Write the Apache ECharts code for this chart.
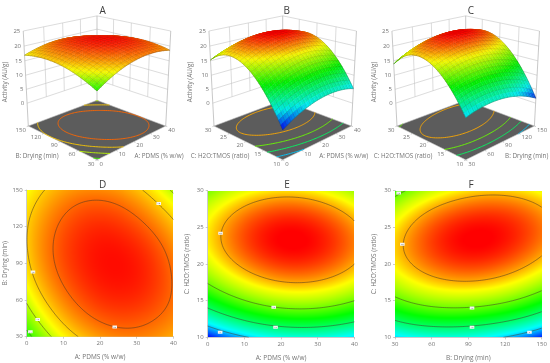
<!DOCTYPE html>
<html><head><meta charset="utf-8">
<style>html,body{margin:0;padding:0;background:#fff}#c{width:550px;height:363px;filter:blur(.3px)}</style>
<script src="https://cdn.jsdelivr.net/npm/echarts@6/dist/echarts.min.js"></script>
</head><body><div id="c"></div>
<script>
// Ticks
const pdmsTicks=[0,10,20,30,40];
const dryingTicks=[30,60,90,120,150];
const ratioTicks=[10,15,20,25,30];
const activityTicks=[0,5,10,15,20,25];
// Activity read at the tick crossings; rows follow the first factor, columns the second
const activityPdmsDrying=[
 [13.4,16.2,17.7,17.9,16.9],
 [17.0,19.4,20.5,20.3,18.8],
 [19.0,21.0,21.7,21.2,19.3],
 [19.5,21.1,21.5,20.5,18.3],
 [18.6,19.8,19.7,18.4,15.7]];
const activityPdmsRatio=[
 [1.3,11.7,17.5,18.7,15.3],
 [4.7,14.9,20.5,21.5,17.9],
 [6.5,16.6,22.0,22.8,19.0],
 [6.7,16.6,21.8,22.4,18.4],
 [5.3,15.0,20.0,20.4,16.2]];
const activityDryingRatio=[
 [5.2,14.3,18.8,18.7,13.9],
 [6.6,16.2,21.1,21.5,17.2],
 [6.5,16.5,22.0,22.8,19.0],
 [4.9,15.4,21.3,22.6,19.3],
 [1.8,12.8,19.2,21.0,18.1]];
// Contour levels and their value flags
const levelsD=[20,18,16,14];
const levelsEF=[20,15,10,5];
const flagsD=[[36,139,'18'],[1.7,83,'18'],[3,44,'16'],[1,34,'14'],[24,38,'20']];
const flagsE=[[3.5,24.2,'20'],[18,14.1,'15'],[18.5,11.4,'10'],[3.4,10.7,'5']];
const flagsF=[[36,22.7,'20'],[93,14,'15'],[93,11.4,'10'],[140,10.7,'5'],[33,29.7,'15']];
const rampD=[[2,[0,0,255]],[8,[0,255,255]],[13,[0,255,0]],[17,[255,255,0]],[22,[255,0,0]]];
const rampEF=[[1.3,[0,0,255]],[6,[0,255,255]],[12.5,[0,255,0]],[18.5,[255,255,0]],[23,[255,0,0]]];
const FONT='"Open Sans",sans-serif', GREY='#747474';

function rgb(s,z,sh){sh=sh==null?1:sh;
  let c=s[s.length-1][1];
  if(z<=s[0][0])c=s[0][1];
  else for(let i=0;i<s.length-1;i++){if(z<=s[i+1][0]){const t=(z-s[i][0])/(s[i+1][0]-s[i][0]);
    c=s[i][1].map((a,k)=>a+(s[i+1][1][k]-a)*t);break;}}
  return c.map(a=>Math.round(a*sh));
}
const css=c=>'rgb('+c.join(',')+')';
function basis(t){const n=[0,.25,.5,.75,1];return n.map((a,i)=>{let r=1;n.forEach((b,j)=>{if(j!==i)r*=(t-b)/(a-b)});return r;});}
function shade(g,u,v){const a=basis(u),b=basis(v);let r=0;for(let i=0;i<5;i++)for(let j=0;j<5;j++)r+=g[i][j]*a[i]*b[j];return r;}
function fineGrid(g,N){const o=[];for(let i=0;i<=N;i++){const r=[];for(let j=0;j<=N;j++)r.push(shade(g,i/N,j/N));o.push(r);}return o;}
function isoSegs(f,N,lv){const out=[];
  const e=(a,b,pa,pb)=>{const t=(lv-a)/(b-a);return [pa[0]+(pb[0]-pa[0])*t,pa[1]+(pb[1]-pa[1])*t];};
  for(let i=0;i<N;i++)for(let j=0;j<N;j++){
    const p=[[i/N,j/N],[(i+1)/N,j/N],[(i+1)/N,(j+1)/N],[i/N,(j+1)/N]];
    const z=[f[i][j],f[i+1][j],f[i+1][j+1],f[i][j+1]],pts=[];
    for(let k=0;k<4;k++){const m=(k+1)%4;if((z[k]<lv)!==(z[m]<lv))pts.push(e(z[k],z[m],p[k],p[m]));}
    if(pts.length===2)out.push(pts);
    else if(pts.length===4){out.push([pts[0],pts[1]],[pts[2],pts[3]]);}
  }return out;}
echarts.graphic.registerShape('segments',echarts.graphic.extendShape({
  shape:{segs:[]},
  buildPath(ctx,s){for(const q of s.segs){ctx.moveTo(q[0],q[1]);ctx.lineTo(q[2],q[3]);}}
}));
function fieldCanvas(g,ramp){const n=147,cv=document.createElement('canvas');cv.width=n;cv.height=n;
  const x=cv.getContext('2d'),im=x.createImageData(n,n);
  for(let r=0;r<n;r++)for(let c=0;c<n;c++){const col=rgb(ramp,shade(g,(c+.5)/n,1-(r+.5)/n));const o=(r*n+c)*4;
    im.data[o]=col[0];im.data[o+1]=col[1];im.data[o+2]=col[2];im.data[o+3]=255;}
  x.putImageData(im,0,0);return cv;}

// 3D box
const CAM={D:4.7,sin:.334,cos:.943,S:100.6,cy:80.2,zFloor:-8.5,zTop:25};
function project(cx,u,v,z){
  const w=(z-CAM.zFloor)/(CAM.zTop-CAM.zFloor)-.5;
  const xs=(u-v)*.7071,g=(u+v-1)*.7071;
  const yc=w*CAM.cos+g*CAM.sin,dp=g*CAM.cos-w*CAM.sin,f=CAM.D/(CAM.D+dp);
  return {x:cx+CAM.S*f*xs,y:CAM.cy-CAM.S*f*yc,d:dp};
}
function txt(x,y,s,o){o=o||{};return {type:'text',silent:true,x,y,rotation:o.rot||0,style:{text:s,font:(o.fs||6)+'px '+FONT,fill:o.fill||GREY,align:o.align||'center',verticalAlign:'middle'}};}
function ln(a,b,col,w){return {type:'line',silent:true,shape:{x1:a.x,y1:a.y,x2:b.x,y2:b.y},style:{stroke:col,lineWidth:w,fill:null}};}

function build3D(cfg){
  const ch=[],{cx,grid,xt,yt,levels,ramp}=cfg,P=(u,v,z)=>project(cx,u,v,z),ZF=CAM.zFloor;
  const WALL='#c4c4c4';
  activityTicks.forEach(z=>{
    ch.push(ln(P(0,1,z),P(1,1,z),WALL,.6),ln(P(1,1,z),P(1,0,z),WALL,.6));
  });
  for(let i=1;i<4;i++){
    ch.push(ln(P(i/4,1,0),P(i/4,1,25),WALL,.6),ln(P(1,i/4,0),P(1,i/4,25),WALL,.6));
  }
  [[0,1],[1,1],[1,0]].forEach(c=>ch.push(ln(P(c[0],c[1],ZF),P(c[0],c[1],25),'#b0b0b0',.7)));
  const fl=[[0,0],[1,0],[1,1],[0,1]].map(c=>{const p=P(c[0],c[1],ZF);return [p.x,p.y];});
  ch.push({type:'polygon',silent:true,shape:{points:fl},style:{fill:'#5c5c5c',stroke:'#bdbdbd',lineWidth:.6}});
  const NC=60,ff=fineGrid(grid,NC);
  levels.forEach(l=>{
    const segs=isoSegs(ff,NC,l).map(q=>{const a=P(q[0][0],q[0][1],ZF),b=P(q[1][0],q[1][1],ZF);return [a.x,a.y,b.x,b.y];});
    ch.push({type:'segments',silent:true,shape:{segs},style:{stroke:css(rgb(ramp,l)),lineWidth:.9,fill:null}});
  });
  xt.forEach((t,i)=>{const u=i/4,p=P(u,0,ZF),q=project(cx,u,-.02,ZF);
    ch.push(ln(p,q,'#9a9a9a',.5),txt(p.x+2.5,p.y+4,String(t),{align:'left'}));});
  yt.forEach((t,i)=>{const v=i/4,p=P(0,v,ZF),q=project(cx,-.02,v,ZF);
    ch.push(ln(p,q,'#9a9a9a',.5),txt(p.x-2.5,p.y+4,String(t),{align:'right'}));});
  activityTicks.forEach(z=>{const p=P(0,1,z);ch.push(txt(p.x-3,p.y,String(z),{align:'right'}));});
  ch.push(txt(cx+cfg.nameLeft,156.7,cfg.yName,{fs:6.3}),txt(cx+cfg.nameRight,156.7,cfg.xName,{fs:6.3}));
  ch.push(txt(cfg.zNameX,82,'Activity (AU/g)',{rot:Math.PI/2,fs:6.3}));
  const N=40,f=fineGrid(grid,N),q=[];
  const zs=1/(CAM.zTop-ZF);
  for(let i=0;i<N;i++)for(let j=0;j<N;j++){
    const a=P(i/N,j/N,f[i][j]),b=P((i+1)/N,j/N,f[i+1][j]),c=P((i+1)/N,(j+1)/N,f[i+1][j+1]),d=P(i/N,(j+1)/N,f[i][j+1]);
    const m=(f[i][j]+f[i+1][j]+f[i+1][j+1]+f[i][j+1])/4;
    const dzu=(f[i+1][j]+f[i+1][j+1]-f[i][j]-f[i][j+1])/2*N*zs,dzv=(f[i][j+1]+f[i+1][j+1]-f[i][j]-f[i+1][j])/2*N*zs;
    const up=1/Math.sqrt(1+dzu*dzu+dzv*dzv);
    q.push({a,b,c,d,i,j,m,sh:.84+.14*up,dp:(a.d+b.d+c.d+d.d)/4});
  }
  q.sort((s,t)=>t.dp-s.dp);
  const ML='rgba(45,35,25,.52)';
  for(const k of q){
    const col=css(rgb(ramp,k.m,k.sh));
    ch.push({type:'polygon',silent:true,shape:{points:[k.a,k.b,k.c,k.d].map(p=>[p.x,p.y])},style:{fill:col,stroke:col,lineWidth:.4}});
    if(k.i%2===0)ch.push(ln(k.a,k.d,ML,.5));
    if(k.j%2===0)ch.push(ln(k.a,k.b,ML,.5));
    if(k.i===N-1)ch.push(ln(k.b,k.c,ML,.5));
    if(k.j===N-1)ch.push(ln(k.d,k.c,ML,.5));
  }
  return {type:'group',children:ch};
}
const nodes=g=>{const o=[];g.forEach((r,i)=>r.forEach((z,j)=>o.push([i,j,z])));return o;};
function series3D(cfg){let cache=null;
  return {type:'custom',coordinateSystem:'none',silent:true,animation:false,data:nodes(cfg.grid),
    renderItem(p){if(p.dataIndex!==0)return null;return cache||(cache=build3D(cfg));}};
}
function series2D(idx,grid,xt,yt,levels,flags,ramp){
  const x0=xt[0],x1=xt[4],y0=yt[0],y1=yt[4],img=fieldCanvas(grid,ramp),NC=80,ff=fineGrid(grid,NC);
  const segsU=[];levels.forEach(l=>segsU.push(...isoSegs(ff,NC,l)));
  return {type:'custom',coordinateSystem:'cartesian2d',xAxisIndex:idx,yAxisIndex:idx,silent:true,animation:false,z:3,
    data:nodes(grid).map(n=>[xt[n[0]],yt[n[1]],n[2]]),encode:{x:0,y:1},clip:true,
    renderItem(p,api){ if(p.dataIndex!==0)return null;
      const a=api.coord([x0,y1]),b=api.coord([x1,y0]),ch=[];
      ch.push({type:'image',silent:true,style:{image:img,x:a[0],y:a[1],width:b[0]-a[0],height:b[1]-a[1]}});
      const segs=segsU.map(q=>{const s=api.coord([x0+q[0][0]*(x1-x0),y0+q[0][1]*(y1-y0)]),e=api.coord([x0+q[1][0]*(x1-x0),y0+q[1][1]*(y1-y0)]);return [s[0],s[1],e[0],e[1]];});
      ch.push({type:'segments',silent:true,shape:{segs},style:{stroke:'rgba(70,55,40,.65)',lineWidth:.8,fill:null}});
      flags.forEach(l=>{const c=api.coord([l[0],l[1]]);
        ch.push({type:'rect',silent:true,shape:{x:c[0]-2.3,y:c[1]-1.5,width:4.6,height:3},style:{fill:'#f4f4f4'}});
        ch.push({type:'text',silent:true,x:c[0],y:c[1],style:{text:l[2],font:'2.5px '+FONT,fill:'#777',align:'center',verticalAlign:'middle'}});
      });
      return {type:'group',children:ch};
    }};
}
const NAME_A='A: PDMS (% w/w)',NAME_B='B: Drying (min)',NAME_C='C: H2O:TMOS (ratio)';
const panels2D=[
 {left:26.7,top:190,xt:pdmsTicks,yt:dryingTicks,xn:NAME_A,yn:NAME_B},
 {left:207.7,top:190.7,xt:pdmsTicks,yt:ratioTicks,xn:NAME_A,yn:NAME_C},
 {left:395,top:190.7,xt:dryingTicks,yt:ratioTicks,xn:NAME_B,yn:NAME_C}];
const ax=(t,name,gap)=>({type:'value',gridIndex:0,min:t[0],max:t[4],interval:t[1]-t[0],name,nameLocation:'middle',nameGap:gap,
  nameTextStyle:{fontFamily:FONT,fontSize:6.5,color:GREY},
  axisLine:{show:true,onZero:false,lineStyle:{color:'#a8a8a8',width:.6}},
  axisTick:{show:true,length:2,lineStyle:{color:'#a8a8a8',width:.6}},splitLine:{show:false},
  axisLabel:{fontFamily:FONT,fontSize:6,color:GREY,margin:4,hideOverlap:false,showMinLabel:true,showMaxLabel:true}});
const titles=[['A',97.7,7.5],['B',281.7,7.5],['C',466,7.5],['D',97.7,181.5],['E',282,181.5],['F',466,181.5]];
const option={animation:false,backgroundColor:'#fff',
  title:titles.map(t=>({text:t[0],left:t[1],top:t[2]-6,textAlign:'center',textStyle:{fontFamily:FONT,fontSize:10,fontWeight:'normal',color:'#3c3c3c'}})),
  grid:panels2D.map(p=>({left:p.left,top:p.top,width:146.7,height:146.7})),
  xAxis:panels2D.map((p,i)=>Object.assign(ax(p.xt,p.xn,17),{gridIndex:i})),
  yAxis:panels2D.map((p,i)=>Object.assign(ax(p.yt,p.yn,17),{gridIndex:i})),
  series:[
   series3D({cx:97,grid:activityPdmsDrying,xt:pdmsTicks,yt:dryingTicks,levels:levelsD,ramp:rampD,xName:NAME_A,yName:NAME_B,nameLeft:-60,nameRight:62,zNameX:5}),
   series3D({cx:282.7,grid:activityPdmsRatio,xt:pdmsTicks,yt:ratioTicks,levels:levelsEF,ramp:rampEF,xName:NAME_A,yName:NAME_C,nameLeft:-62.7,nameRight:61,zNameX:190}),
   series3D({cx:465.7,grid:activityDryingRatio,xt:dryingTicks,yt:ratioTicks,levels:levelsEF,ramp:rampEF,xName:NAME_B,yName:NAME_C,nameLeft:-62.7,nameRight:61,zNameX:374.3}),
   series2D(0,activityPdmsDrying,pdmsTicks,dryingTicks,levelsD,flagsD,rampD),
   series2D(1,activityPdmsRatio,pdmsTicks,ratioTicks,levelsEF,flagsE,rampEF),
   series2D(2,activityDryingRatio,dryingTicks,ratioTicks,levelsEF,flagsF,rampEF)
  ]};
const chart=echarts.init(document.getElementById('c'),null,{renderer:'canvas'});
chart.setOption(option);
</script></body></html>
